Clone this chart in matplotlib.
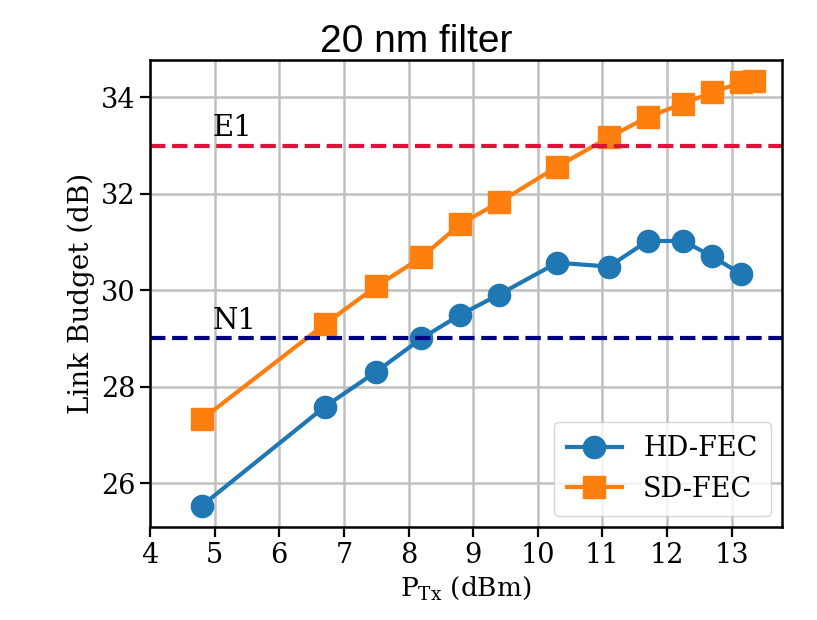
import numpy as np
import matplotlib
matplotlib.use("Agg")
import matplotlib.pyplot as plt

# data
p_tx = [4.8, 6.7, 7.5, 8.2, 8.8, 9.4, 10.3, 11.1, 11.7, 12.25, 12.7, 13.15]
hd_fec = [25.53, 27.58, 28.31, 29.0, 29.49, 29.91, 30.57, 30.49, 31.02, 31.02, 30.70, 30.33]

p_tx_sd = [4.8, 6.7, 7.5, 8.2, 8.8, 9.4, 10.3, 11.1, 11.7, 12.25, 12.7, 13.15, 13.35]
sd_fec = [27.32, 29.29, 30.08, 30.68, 31.37, 31.82, 32.56, 33.17, 33.59, 33.87, 34.10, 34.31, 34.33]

classes = ["E1", "N1"]
class_levels = [33, 29]
class_colors = ["crimson", "navy"]

plt.rcParams['font.family'] = 'DejaVu Serif'
plt.rcParams['mathtext.fontset'] = 'dejavuserif'

fig = plt.figure(figsize=(8.17, 6.2), dpi=100)
ax = fig.add_axes([0.1836, 0.15, 0.7735, 0.753])

ax.plot(p_tx, hd_fec, marker='o', color='#1f77b4', lw=3, ms=16, label='HD-FEC')
ax.plot(p_tx_sd, sd_fec, marker='s', color='#ff7f0e', lw=3, ms=16, label='SD-FEC')

for name, lvl, c in zip(classes, class_levels, class_colors):
    ax.axhline(lvl, color=c, ls='--', lw=3)
    ax.text(4.97, lvl + 0.08, name, fontsize=21, va='bottom', ha='left')

ax.set_xlim(left=4)
ax.set_xticks(range(4, 14))
ax.set_yticks([26, 28, 30, 32, 34])
ax.grid(True, color='#c0c0c0', lw=1.8)
ax.set_axisbelow(True)
ax.tick_params(labelsize=19.5, width=1.6, length=7)
for s in ax.spines.values():
    s.set_linewidth(1.8)

ax.set_xlabel(r'P$_{\rm Tx}$ (dBm)', fontsize=19)
ax.set_ylabel('Link Budget (dB)', fontsize=20)
# title sits a bit left of the axes centre in the reference
ax.set_title('20 nm filter', fontsize=28, family='Liberation Sans', pad=5, x=0.421)

ax.legend(loc='lower right', fontsize=19.5, borderpad=0.5, handlelength=2.0,
          borderaxespad=0.4)

fig.savefig('out.png', dpi=100)
